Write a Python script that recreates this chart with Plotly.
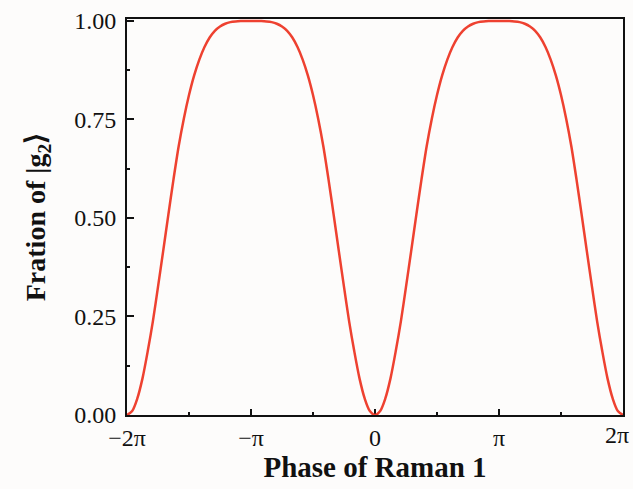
import plotly.graph_objects as go

# Phase of Raman 1, in units of pi (step pi/24)
phase_pi = [-2.0, -1.9583, -1.9167, -1.875, -1.8333, -1.7917, -1.75, -1.7083, -1.6667, -1.625,
            -1.5833, -1.5417, -1.5, -1.4583, -1.4167, -1.375, -1.3333, -1.2917, -1.25, -1.2083,
            -1.1667, -1.125, -1.0833, -1.0417, -1.0, -0.9583, -0.9167, -0.875, -0.8333, -0.7917,
            -0.75, -0.7083, -0.6667, -0.625, -0.5833, -0.5417, -0.5, -0.4583, -0.4167, -0.375,
            -0.3333, -0.2917, -0.25, -0.2083, -0.1667, -0.125, -0.0833, -0.0417, 0.0,
            0.0417, 0.0833, 0.125, 0.1667, 0.2083, 0.25, 0.2917, 0.3333, 0.375, 0.4167,
            0.4583, 0.5, 0.5417, 0.5833, 0.625, 0.6667, 0.7083, 0.75, 0.7917, 0.8333,
            0.875, 0.9167, 0.9583, 1.0, 1.0417, 1.0833, 1.125, 1.1667, 1.2083, 1.25,
            1.2917, 1.3333, 1.375, 1.4167, 1.4583, 1.5, 1.5417, 1.5833, 1.625, 1.6667,
            1.7083, 1.75, 1.7917, 1.8333, 1.875, 1.9167, 1.9583, 2.0]

# Fraction of |g2>
fraction = [0.0, 0.01, 0.042, 0.093, 0.161, 0.237, 0.325, 0.416, 0.508, 0.598,
            0.682, 0.752, 0.812, 0.862, 0.902, 0.934, 0.958, 0.975, 0.986, 0.993,
            0.997, 0.9988, 0.9997, 1.0, 1.0, 1.0, 0.9997, 0.9988, 0.997, 0.993,
            0.986, 0.975, 0.958, 0.934, 0.902, 0.862, 0.812, 0.752, 0.682, 0.598,
            0.508, 0.416, 0.325, 0.237, 0.161, 0.093, 0.042, 0.01, 0.0,
            0.01, 0.042, 0.093, 0.161, 0.237, 0.325, 0.416, 0.508, 0.598, 0.682,
            0.752, 0.812, 0.862, 0.902, 0.934, 0.958, 0.975, 0.986, 0.993, 0.997,
            0.9988, 0.9997, 1.0, 1.0, 1.0, 0.9997, 0.9988, 0.997, 0.993, 0.986,
            0.975, 0.958, 0.934, 0.902, 0.862, 0.812, 0.752, 0.682, 0.598, 0.508,
            0.416, 0.325, 0.237, 0.161, 0.093, 0.042, 0.01, 0.0]

# Major x ticks (labels); the last one (2π) sits on the right frame edge
x_tick_vals = [-2, -1, 0, 1]
x_tick_text = ["\u22122\u03c0", "\u2212\u03c0", "0", "\u03c0"]
x_last_val = 2
x_last_label = "2\u03c0"
x_minor_vals = [-1.5, -0.5, 0.5, 1.5]
y_tick_vals = [0, 0.25, 0.5, 0.75, 1.0]
y_tick_text = ["0.00", "0.25", "0.50", "0.75", "1.00"]
y_minor_vals = [0.125, 0.375, 0.625, 0.875]

serif = "Liberation Serif, Times New Roman, serif"
ink = "#111111"
bg = "#fdfcfb"

fig = go.Figure()
fig.add_trace(go.Scatter(
    x=phase_pi, y=fraction, mode="lines",
    line=dict(color="#ee4130", width=2.5, shape="spline", smoothing=0.8),
    cliponaxis=False, showlegend=False, hoverinfo="skip",
))

axis_common = dict(
    showline=True, linecolor=ink, linewidth=2, mirror=True,
    ticks="inside", tickcolor=ink, tickwidth=2,
    showgrid=False, zeroline=False, layer="below traces",
    tickfont=dict(family=serif, size=24, color=ink),
)

fig.update_xaxes(
    range=[-2, 2], tickmode="array", tickvals=x_tick_vals, ticktext=x_tick_text,
    ticklen=6,
    minor=dict(tickmode="array", tickvals=x_minor_vals, ticks="inside", ticklen=3,
               tickwidth=2, tickcolor=ink),
    title=dict(text="<b>Phase of Raman 1</b>", font=dict(family=serif, size=29, color=ink),
               standoff=6),
    **axis_common,
)
fig.update_yaxes(
    range=[0, 1.005], tickmode="array", tickvals=y_tick_vals, ticktext=y_tick_text,
    ticklen=7, ticklabelstandoff=4,
    minor=dict(tickmode="array", tickvals=y_minor_vals, ticks="inside", ticklen=3,
               tickwidth=2, tickcolor=ink),
    title=dict(text="<b>Fration of |g<sub>2</sub>\u27e9</b>",
               font=dict(family=serif, size=28, color=ink), standoff=20),
    **axis_common,
)

fig.add_annotation(
    x=x_last_val, y=0, xref="x", yref="paper", text=x_last_label,
    showarrow=False, xanchor="right", yanchor="top", xshift=8, yshift=-5,
    font=dict(family=serif, size=24, color=ink),
)

fig.update_layout(
    width=633, height=489,
    margin=dict(l=127, r=8, t=15, b=74),
    paper_bgcolor=bg, plot_bgcolor=bg,
)

fig.write_html("out.html")
